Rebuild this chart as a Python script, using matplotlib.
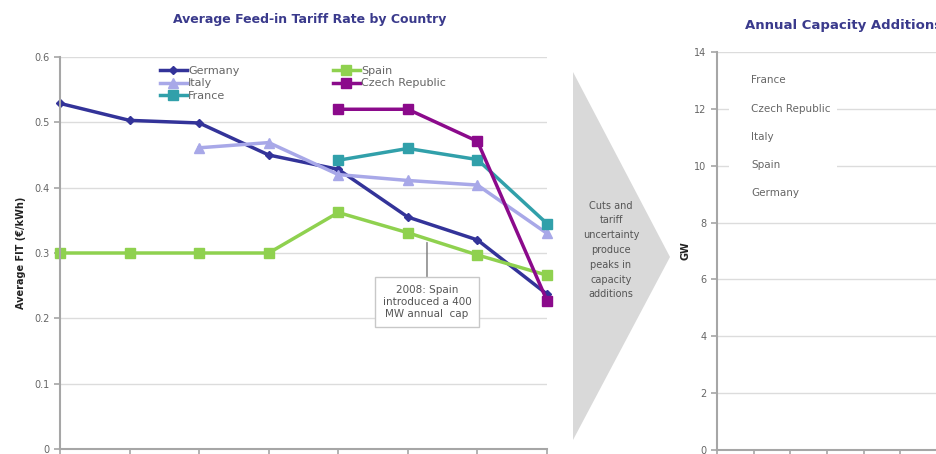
import matplotlib
matplotlib.use("Agg")
import matplotlib.pyplot as plt
from matplotlib.patches import Polygon
from matplotlib.lines import Line2D

# données
years_idx = [0, 1, 2, 3, 4, 5, 6, 7]
germany = [0.529, 0.503, 0.499, 0.450, 0.428, 0.355, 0.320, 0.237]
italy_x = [2, 3, 4, 5, 6, 7]
italy = [0.461, 0.469, 0.420, 0.411, 0.404, 0.330]
spain = [0.300, 0.300, 0.300, 0.300, 0.362, 0.331, 0.297, 0.266]
czech_x = [4, 5, 6, 7]
czech = [0.520, 0.520, 0.471, 0.227]
france_x = [4, 5, 6, 7]
france = [0.442, 0.460, 0.443, 0.345]

right_countries = ["France", "Czech Republic", "Italy", "Spain", "Germany"]

W, H = 936, 454
fig = plt.figure(figsize=(W / 100, H / 100), dpi=100)


def px(x, y):
    """pixels (origine en haut a gauche) -> fraction de figure"""
    return x / W, 1 - y / H


grey_txt = "#666666"
grid_c = "#dcdcdc"
spine_c = "#a6a6a6"

# ---- graphique de gauche ----
l, b = px(60, 449)
r, t = px(547, 57)
ax = fig.add_axes([l, b, r - l, t - b])
ax.set_xlim(0, 7)
ax.set_ylim(0, 0.6)
ax.set_yticks([0, 0.1, 0.2, 0.3, 0.4, 0.5, 0.6])
ax.set_yticklabels(["0", "0.1", "0.2", "0.3", "0.4", "0.5", "0.6"])
ax.set_xticks(years_idx)
ax.set_xticklabels([])
ax.grid(axis="y", color=grid_c, lw=1)
ax.set_axisbelow(True)
for s in ["top", "right"]:
    ax.spines[s].set_visible(False)
for s in ["left", "bottom"]:
    ax.spines[s].set_color(spine_c)
    ax.spines[s].set_linewidth(1.5)
ax.tick_params(colors=spine_c, labelcolor=grey_txt, labelsize=7, length=4, width=1.2)

ax.plot(years_idx, germany, color="#333399", lw=2.5, marker="D", ms=4, label="Germany", clip_on=False)
ax.plot(italy_x, italy, color="#a8a8e8", lw=2.5, marker="^", ms=7, label="Italy", clip_on=False)
ax.plot(france_x, france, color="#31a0aa", lw=2.5, marker="s", ms=7, label="France", clip_on=False)
ax.plot(years_idx, spain, color="#8fd14f", lw=2.5, marker="s", ms=7, label="Spain", clip_on=False)
ax.plot(czech_x, czech, color="#8b0a8b", lw=2.5, marker="s", ms=7, label="Czech Republic", clip_on=False)

ax.legend(ncol=2, loc="upper left", bbox_to_anchor=px(160, 66), bbox_transform=fig.transFigure,
          frameon=False, fontsize=8, handlelength=2.4, handletextpad=0.15, labelspacing=0.22,
          columnspacing=8.4, labelcolor=grey_txt, borderpad=0, borderaxespad=0)

ax.annotate("2008: Spain\nintroduced a 400\nMW annual  cap", xy=(5.275, 0.316), xytext=(5.275, 0.225),
            ha="center", va="center", fontsize=7.5, color="#555555", linespacing=1.3,
            bbox=dict(boxstyle="square,pad=0.7", fc="white", ec="#c8c8c8", lw=1),
            arrowprops=dict(arrowstyle="-", color="#777777", lw=1, shrinkA=0, shrinkB=0))

ax.set_ylabel("Average FIT (€/kWh)", fontsize=7, fontweight="bold", color="#222222", labelpad=6)
fig.text(*px(310, 20), "Average Feed-in Tariff Rate by Country", ha="center", va="center",
         fontsize=9, fontweight="bold", color="#3a3a8c")

# ---- fleche du milieu ----
arrow = Polygon([px(573, 72), px(670, 257), px(573, 440)], closed=True,
                transform=fig.transFigure, fc="#d9d9d9", ec="none")
fig.patches.append(arrow)
fig.text(*px(611, 250), "Cuts and\ntariff\nuncertainty\nproduce\npeaks in\ncapacity\nadditions",
         ha="center", va="center", fontsize=7, color="#555555", linespacing=1.6)

# ---- graphique de droite ----
l2, b2 = px(717, 450)
r2, t2 = px(1010, 52)
ax2 = fig.add_axes([l2, b2, r2 - l2, t2 - b2])
ax2.set_xlim(0, 8)
ax2.set_ylim(0, 14)
ax2.set_yticks(range(0, 15, 2))
ax2.set_xticks(range(0, 9))
ax2.set_xticklabels([])
ax2.grid(axis="y", color=grid_c, lw=1)
ax2.set_axisbelow(True)
for s in ["top", "right"]:
    ax2.spines[s].set_visible(False)
for s in ["left", "bottom"]:
    ax2.spines[s].set_color(spine_c)
    ax2.spines[s].set_linewidth(1.5)
ax2.tick_params(colors=spine_c, labelcolor=grey_txt, labelsize=7, length=4, width=1.2)
ax2.set_ylabel("GW", fontsize=7, fontweight="bold", color="#222222", labelpad=3)

handles = [Line2D([], [], color="none") for _ in right_countries]
leg2 = ax2.legend(handles, right_countries, loc="upper left", bbox_to_anchor=px(724, 64),
                  bbox_transform=fig.transFigure, frameon=True, fontsize=7.5, labelcolor=grey_txt,
                  handlelength=1.0, handletextpad=0.5, labelspacing=1.75, borderpad=0.6)
leg2.get_frame().set_facecolor("white")
leg2.get_frame().set_edgecolor("none")
leg2.get_frame().set_alpha(1)

fig.text(*px(745, 25), "Annual Capacity Additions", ha="left", va="center",
         fontsize=9.5, fontweight="bold", color="#3a3a8c")

fig.savefig("out.png", dpi=100)
